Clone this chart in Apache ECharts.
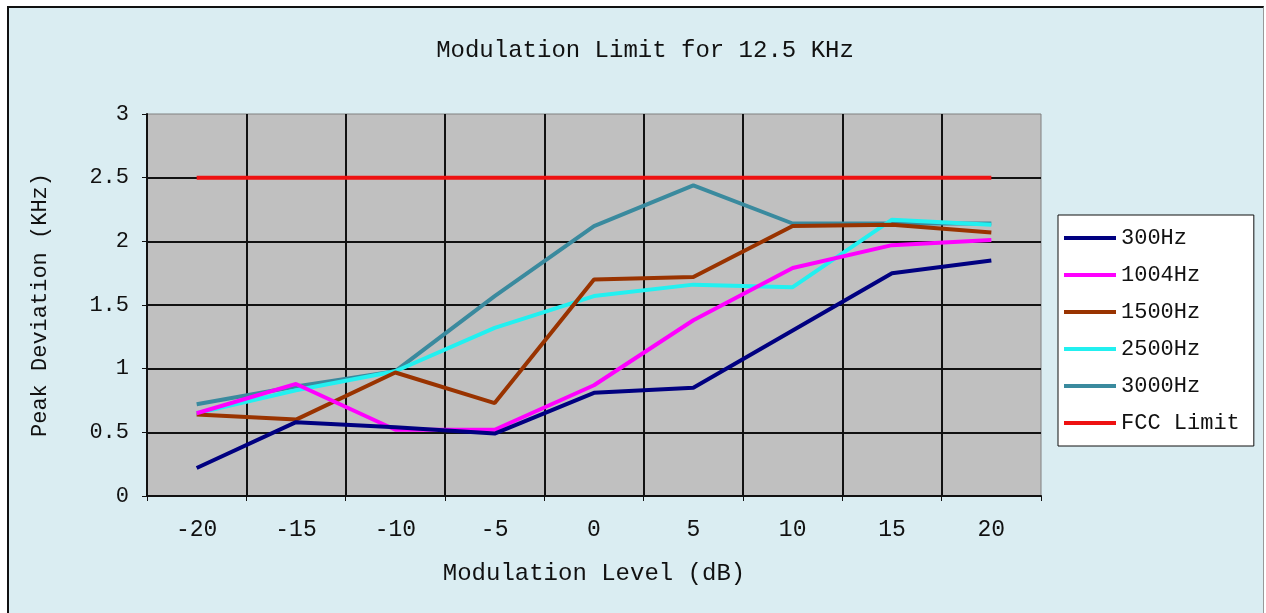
<!DOCTYPE html>
<html><head><meta charset="utf-8">
<script src="https://cdn.jsdelivr.net/npm/echarts@6/dist/echarts.min.js"></script>
<style>
html,body{margin:0;padding:0;background:#ffffff;}
#frame{position:absolute;left:7px;top:6px;width:1254px;height:610px;background:#DAEDF2;border-left:2px solid #111;border-top:2px solid #111;border-right:1px solid #999;}
#chart{position:absolute;left:0;top:0;width:1266px;height:613px;}
</style></head>
<body>
<div id="frame"></div>
<div id="chart"></div>
<script>
const categories = ['-20','-15','-10','-5','0','5','10','15','20'];
const s300  = [0.22,0.58,0.54,0.49,0.81,0.85,1.30,1.75,1.85];
const s1004 = [0.65,0.88,0.52,0.52,0.87,1.38,1.79,1.97,2.01];
const s1500 = [0.64,0.60,0.97,0.73,1.70,1.72,2.12,2.13,2.07];
const s2500 = [0.65,0.83,0.98,1.32,1.57,1.66,1.64,2.17,2.13];
const s3000 = [0.72,0.86,0.98,1.57,2.12,2.44,2.14,2.14,2.14];
const fcc   = [2.5,2.5,2.5,2.5,2.5,2.5,2.5,2.5,2.5];
const seriesNames = ['300Hz','1004Hz','1500Hz','2500Hz','3000Hz','FCC Limit'];
const seriesData = [s300,s1004,s1500,s2500,s3000,fcc];
const colors = ['#000080','#FF00FF','#993300','#22F0F0','#3A8A9E','#EE1111'];
const FONT = 'Liberation Mono';

const chart = echarts.init(document.getElementById('chart'));
chart.setOption({
  backgroundColor: 'transparent',
  animation: false,
  title: {
    text: 'Modulation Limit for 12.5 KHz',
    left: 640, top: 34, textAlign: 'center',
    textStyle: {fontFamily: FONT, fontSize: 24, fontWeight: 'normal', color: '#111'}
  },
  legend: {
    orient: 'vertical', left: 1058, top: 215,
    backgroundColor: '#ffffff', borderColor: '#111', borderWidth: 1,
    padding: [12, 14, 12, 6],
    itemWidth: 52, itemHeight: 4, itemGap: 15,
    icon: 'rect',
    textStyle: {fontFamily: FONT, fontSize: 22, color: '#111'},
    data: seriesNames
  },
  grid: {
    left: 147, right: 225, top: 114, bottom: 117,
    show: true, backgroundColor: '#C0C0C0', borderColor: '#808080', borderWidth: 1
  },
  xAxis: {
    type: 'category', data: categories, boundaryGap: true,
    name: 'Modulation Level (dB)', nameLocation: 'middle', nameGap: 66,
    nameTextStyle: {fontFamily: FONT, fontSize: 24, color: '#111'},
    axisLine: {lineStyle: {color: '#111', width: 2}},
    axisTick: {show: true, length: 5, lineStyle: {color: '#111'}},
    axisLabel: {fontFamily: FONT, fontSize: 23, color: '#111', margin: 22},
    splitLine: {show: true, showMinLine: false, showMaxLine: false, lineStyle: {color: '#111', width: 2}}
  },
  yAxis: {
    type: 'value', min: 0, max: 3, interval: 0.5,
    name: 'Peak Deviation (KHz)', nameLocation: 'middle', nameGap: 96,
    nameTextStyle: {fontFamily: FONT, fontSize: 22, color: '#111'},
    axisLine: {show: true, lineStyle: {color: '#111', width: 2}},
    axisTick: {show: true, length: 5, lineStyle: {color: '#111'}},
    axisLabel: {fontFamily: FONT, fontSize: 22, color: '#111', margin: 18},
    splitLine: {show: true, showMinLine: false, showMaxLine: false, lineStyle: {color: '#111', width: 2}}
  },
  series: seriesNames.map((n, i) => ({
    name: n, type: 'line', data: seriesData[i],
    symbol: 'none', showSymbol: false,
    lineStyle: {color: colors[i], width: 4},
    itemStyle: {color: colors[i]},
    z: i === 5 ? 3 : 4 + (5 - i)
  }))
});
</script>
</body></html>
